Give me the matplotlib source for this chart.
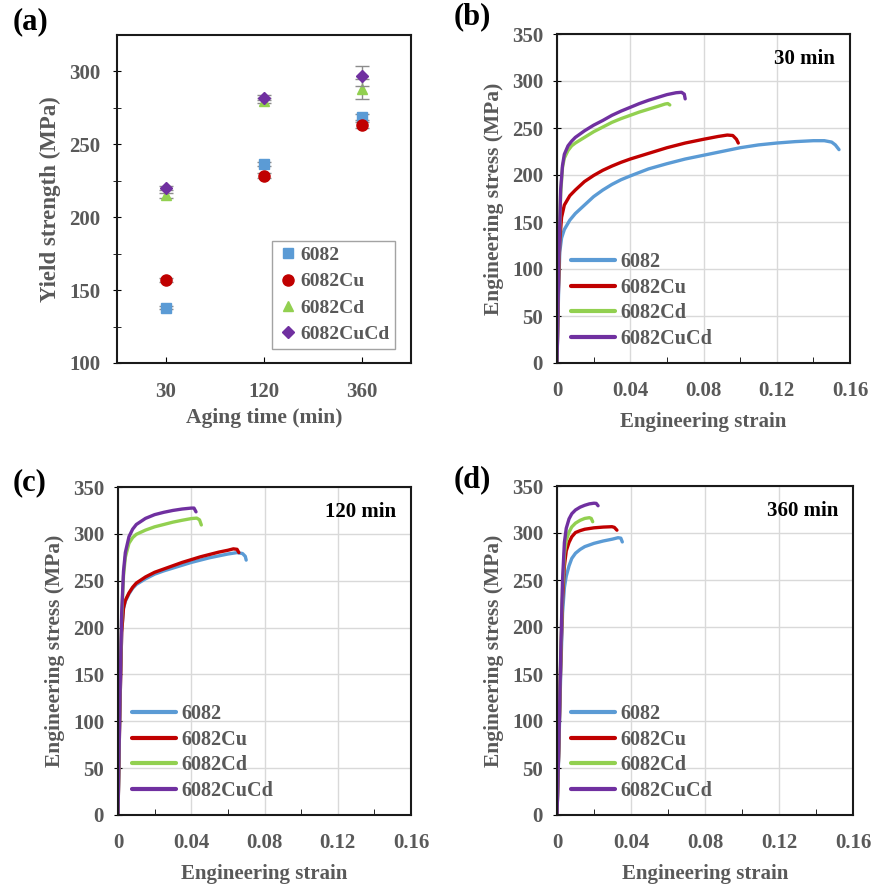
import numpy as np
import matplotlib
matplotlib.use('Agg')
import matplotlib.pyplot as plt

# alloys and colours
alloys = ['6082', '6082Cu', '6082Cd', '6082CuCd']
colors = ['#5B9BD5', '#C00000', '#92D050', '#7030A0']
markers = ['s', 'o', '^', 'D']
msizes = [6.5, 8, 7, 6]

# (a) yield strength vs aging time
aging_labels = ['30', '120', '360']
ys_6082 = [138, 236.5, 268.5]
ys_6082Cu = [157, 228.5, 263]
ys_6082Cd = [215, 280, 288]
ys_6082CuCd = [220, 282, 297]
err_6082 = [1, 1.5, 2]
err_6082Cu = [1.5, 1.5, 2]
err_6082Cd = [1.5, 1.5, 7]
err_6082CuCd = [1.5, 1.5, 7]

# (b) 30 min stress-strain curves
b_6082_x = [0, 0.0008, 0.0015, 0.0025, 0.004, 0.007, 0.01, 0.015, 0.02, 0.025, 0.03, 0.035, 0.04, 0.05,
            0.06, 0.07, 0.08, 0.09, 0.10, 0.11, 0.12, 0.13, 0.14, 0.146, 0.150, 0.152, 0.154]
b_6082_y = [0, 70, 118, 133, 142, 152, 159, 168, 177, 184, 190, 195, 199, 206.5,
            212, 217, 221, 225, 229, 232, 234, 235.5, 236.5, 236.5, 235, 232, 227]
b_6082Cu_x = [0, 0.0008, 0.0015, 0.0025, 0.004, 0.007, 0.01, 0.015, 0.02, 0.025, 0.03, 0.035, 0.04,
              0.05, 0.06, 0.07, 0.08, 0.088, 0.093, 0.096, 0.098, 0.099]
b_6082Cu_y = [0, 80, 130, 155, 168, 178, 184, 193, 199.5, 205, 209.5, 213.5, 217,
              223, 229, 234, 238, 241, 242.5, 242, 238, 234]
b_6082Cd_x = [0, 0.001, 0.002, 0.003, 0.004, 0.006, 0.008, 0.01, 0.015, 0.02, 0.025, 0.03, 0.035,
              0.04, 0.045, 0.05, 0.055, 0.059, 0.0605, 0.0616]
b_6082Cd_y = [0, 110, 180, 208, 218, 226, 231, 234, 240, 246, 251, 256, 260,
              263.5, 267, 270, 273, 275.5, 276, 274.5]
b_6082CuCd_x = [0, 0.001, 0.002, 0.003, 0.004, 0.006, 0.008, 0.01, 0.015, 0.02, 0.025, 0.03, 0.035,
                0.04, 0.045, 0.05, 0.055, 0.06, 0.065, 0.068, 0.0695, 0.070]
b_6082CuCd_y = [0, 110, 185, 210, 222, 231, 236, 240, 247, 253, 258, 263.5, 268,
                272, 276, 279.5, 282.5, 285.5, 287.5, 288, 286, 281]

# (c) 120 min
c_6082_x = [0, 0.001, 0.002, 0.003, 0.004, 0.006, 0.008, 0.01, 0.015, 0.02, 0.025, 0.03, 0.035,
            0.04, 0.045, 0.05, 0.055, 0.06, 0.065, 0.068, 0.0695, 0.070]
c_6082_y = [0, 110, 195, 220, 228, 236, 242, 246, 252, 257, 260.5, 263.5, 266.5,
            269.5, 272, 274.5, 276.5, 278.5, 280, 279, 276, 272]
c_6082Cu_x = [0, 0.001, 0.002, 0.003, 0.004, 0.006, 0.008, 0.01, 0.015, 0.02, 0.025, 0.03, 0.035,
              0.04, 0.045, 0.05, 0.055, 0.06, 0.063, 0.065, 0.066]
c_6082Cu_y = [0, 110, 195, 221, 229, 237, 243, 247.5, 254, 259, 262.5, 266, 269.5,
              272.5, 275.5, 278, 280.5, 282.5, 284, 283.5, 280]
c_6082Cd_x = [0, 0.001, 0.002, 0.003, 0.004, 0.006, 0.008, 0.01, 0.015, 0.02, 0.025, 0.03, 0.035,
              0.04, 0.043, 0.0445, 0.0455]
c_6082Cd_y = [0, 120, 210, 255, 275, 290, 296, 299.5, 304, 307.5, 310, 312.5, 314.5,
              316.3, 316.8, 315, 309.5]
c_6082CuCd_x = [0, 0.001, 0.002, 0.003, 0.004, 0.006, 0.008, 0.01, 0.015, 0.02, 0.025, 0.03, 0.035,
                0.04, 0.0415, 0.0426]
c_6082CuCd_y = [0, 120, 215, 260, 280, 297, 305, 310, 316.5, 320.5, 323, 325, 326.5,
                327.5, 327.5, 323.5]

# (d) 360 min
d_6082_x = [0, 0.001, 0.002, 0.003, 0.004, 0.005, 0.0065, 0.008, 0.01, 0.0125, 0.015, 0.02, 0.025,
            0.03, 0.033, 0.0345, 0.0353]
d_6082_y = [0, 70, 150, 215, 242, 254, 265, 273, 278.5, 282.5, 285.5, 289, 291.5,
            293.5, 295, 294.5, 290.5]
d_6082Cu_x = [0, 0.001, 0.002, 0.003, 0.004, 0.005, 0.0065, 0.008, 0.01, 0.0125, 0.015, 0.02, 0.025,
              0.0297, 0.031, 0.0324]
d_6082Cu_y = [0, 75, 160, 230, 265, 281, 290, 296, 300.5, 302.5, 304, 305.5, 306.3,
              306.7, 306, 303]
d_6082Cd_x = [0, 0.001, 0.002, 0.003, 0.004, 0.005, 0.0065, 0.008, 0.01, 0.0125, 0.015, 0.0175,
              0.0185, 0.0193]
d_6082Cd_y = [0, 75, 165, 240, 278, 292, 301, 306.5, 310.5, 313.5, 315.5, 316.3,
              315.5, 312]
d_6082CuCd_x = [0, 0.001, 0.002, 0.003, 0.004, 0.005, 0.0065, 0.008, 0.01, 0.0125, 0.015, 0.0175,
                0.02, 0.0212, 0.0222]
d_6082CuCd_y = [0, 75, 170, 250, 290, 305, 315, 320.5, 324.5, 327.5, 329.5, 331,
                331.7, 331.5, 329]

strain_ticks = [0, 0.04, 0.08, 0.12, 0.16]
strain_labels = ['0', '0.04', '0.08', '0.12', '0.16']
stress_ticks = [0, 50, 100, 150, 200, 250, 300, 350]

GRAY = '#595959'
plt.rcParams['font.family'] = 'Liberation Serif'
plt.rcParams['font.weight'] = 'bold'
plt.rcParams['axes.labelweight'] = 'bold'

W, H = 875, 884
fig = plt.figure(figsize=(W / 100, H / 100), dpi=100)


def px_axes(x0, y0, x1, y1):
    return fig.add_axes([x0 / W, 1 - y1 / H, (x1 - x0) / W, (y1 - y0) / H])


def style_spines(ax):
    for s in ax.spines.values():
        s.set_linewidth(1.5)
        s.set_color('#1a1a1a')


# ---- panel (a)
ax = px_axes(117, 35, 411, 363)
xpos = np.arange(len(aging_labels)) + 0.5
for vals, errs, name, c, m, ms in zip([ys_6082, ys_6082Cu, ys_6082Cd, ys_6082CuCd],
                                      [err_6082, err_6082Cu, err_6082Cd, err_6082CuCd],
                                      alloys, colors, markers, msizes):
    ax.errorbar(xpos, vals, yerr=errs, fmt='none', ecolor='#8c8c8c',
                elinewidth=1, capsize=5, capthick=1)
    ax.plot(xpos, vals, ls='none', marker=m, color=c, ms=ms, mec=c, label=name)
ax.set_xlim(0, 3)
ax.set_ylim(100, 325)
ax.set_xticks(xpos)
ax.set_xticklabels(aging_labels)
ax.set_yticks([100, 150, 200, 250, 300])
ax.set_yticks([125, 175, 225, 275], minor=True)
ax.tick_params(axis='x', direction='in', length=4, pad=14, labelsize=15, labelcolor=GRAY)
ax.tick_params(axis='y', which='major', direction='inout', length=6, pad=9, labelsize=15, labelcolor=GRAY)
ax.tick_params(axis='y', which='minor', direction='inout', length=6)
style_spines(ax)
ax.set_xlabel('Aging time (min)', fontsize=15.5, color=GRAY, labelpad=4)
ax.set_ylabel('Yield strength (MPa)', fontsize=16.5, color=GRAY, labelpad=6)
leg = ax.legend(loc='lower right', bbox_to_anchor=(0.9456, 0.043), fontsize=14,
                frameon=True, fancybox=False, edgecolor='#8c8c8c', handletextpad=0.05,
                labelspacing=0.45, borderpad=0.3, handlelength=1.1, borderaxespad=0)
leg.get_frame().set_linewidth(1)
for t in leg.get_texts():
    t.set_color(GRAY)


# ---- stress-strain panels
def strain_panel(rect, curves, title):
    ax = px_axes(*rect)
    for (x, y), name, c in zip(curves, alloys, colors):
        ax.plot(x, y, color=c, lw=2.4, label=name, solid_capstyle='round', solid_joinstyle='round')
    ax.set_xlim(0, 0.16)
    ax.set_ylim(0, 350)
    ax.set_xticks(strain_ticks)
    ax.set_xticklabels(strain_labels)
    ax.set_xticks(np.arange(0.02, 0.16, 0.04), minor=True)
    ax.set_yticks(stress_ticks)
    ax.grid(True, which='major', color='#d9d9d9', lw=1)
    ax.set_axisbelow(True)
    ax.tick_params(axis='x', which='major', length=0, pad=13, labelsize=15, labelcolor=GRAY)
    ax.tick_params(axis='x', which='minor', direction='in', length=4)
    ax.tick_params(axis='y', direction='inout', length=6, pad=7, labelsize=15, labelcolor=GRAY)
    style_spines(ax)
    ax.set_xlabel('Engineering strain', fontsize=15, color=GRAY, labelpad=8)
    ax.set_ylabel('Engineering stress (MPa)', fontsize=15.5, color=GRAY, labelpad=6)
    ax.text(0.95, 0.955, title, transform=ax.transAxes, ha='right', va='top',
            fontsize=15, fontweight='bold', color='black')
    leg = ax.legend(loc='lower left', bbox_to_anchor=(0.0, 0.0), fontsize=14.5, frameon=False,
                    handlelength=2.2, handletextpad=0.25, labelspacing=0.28, borderaxespad=0.3)
    for t in leg.get_texts():
        t.set_color(GRAY)
    for h in leg.get_lines():
        h.set_linewidth(3)
    return ax


strain_panel((557, 34, 850, 363),
             [(b_6082_x, b_6082_y), (b_6082Cu_x, b_6082Cu_y), (b_6082Cd_x, b_6082Cd_y), (b_6082CuCd_x, b_6082CuCd_y)],
             '30 min')
strain_panel((118, 487, 411, 815),
             [(c_6082_x, c_6082_y), (c_6082Cu_x, c_6082Cu_y), (c_6082Cd_x, c_6082Cd_y), (c_6082CuCd_x, c_6082CuCd_y)],
             '120 min')
strain_panel((557, 486, 853, 815),
             [(d_6082_x, d_6082_y), (d_6082Cu_x, d_6082Cu_y), (d_6082Cd_x, d_6082Cd_y), (d_6082CuCd_x, d_6082CuCd_y)],
             '360 min')

for lab, (x, y) in zip(['(a)', '(b)', '(c)', '(d)'], [(30, 22), (472, 17), (30, 483), (472, 480)]):
    fig.text(x / W, 1 - y / H, lab, ha='center', va='center', fontsize=22, fontweight='bold', color='black')

fig.savefig('out.png', dpi=100)
